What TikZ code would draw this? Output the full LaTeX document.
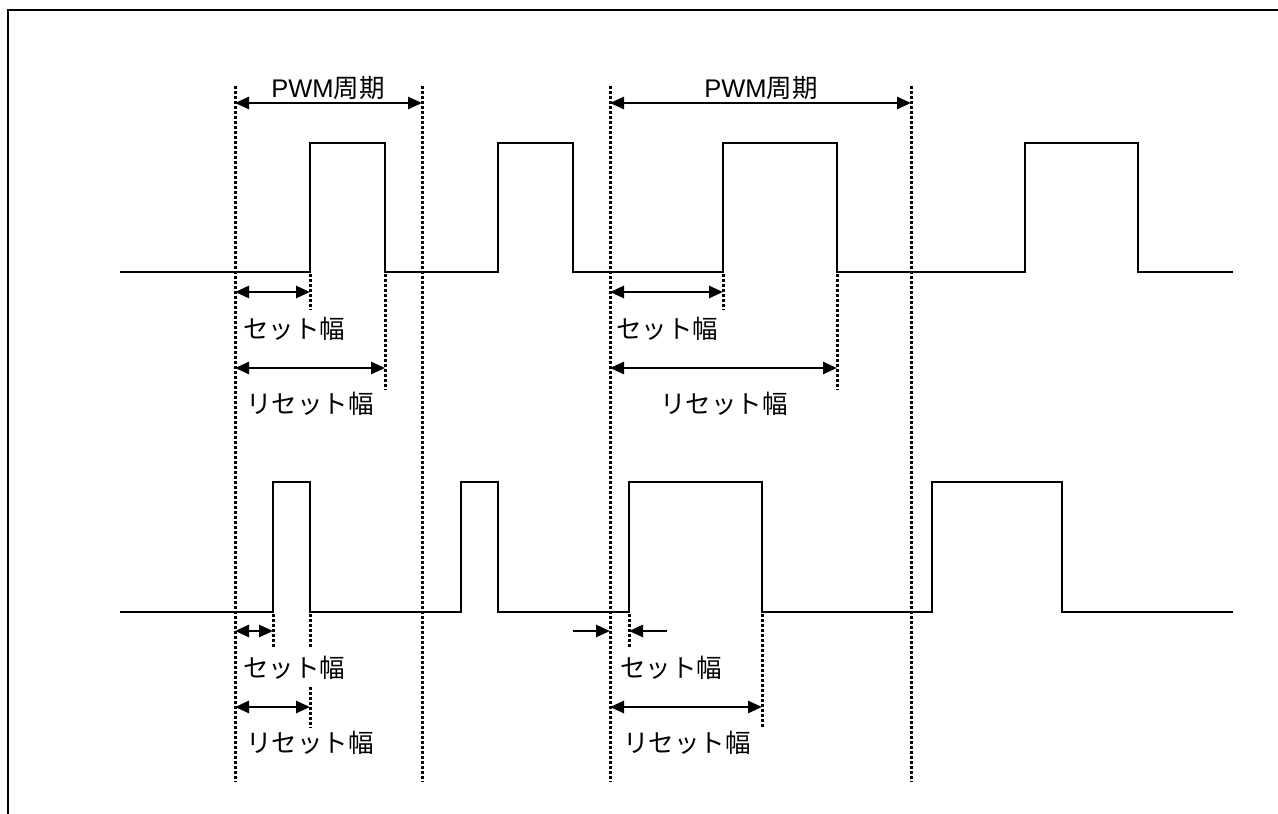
\documentclass[tikz,border=0pt]{standalone}
\usepackage{fontspec}
\setmainfont{Liberation Sans}
\newfontfamily\cjk{Noto Sans CJK JP}
\usetikzlibrary{arrows.meta}
\begin{document}
\begin{tikzpicture}[x=1pt,y=-1pt,
  sig/.style={line width=2.6pt,line join=miter},
  dots/.style={line width=3pt,dash pattern=on 2.5pt off 2.5pt},
  dim/.style={line width=2.6pt,{Triangle[length=14pt,width=12pt]}-{Triangle[length=14pt,width=12pt]}},
  dimr/.style={line width=2.6pt,-{Triangle[length=14pt,width=12pt]}},
  lbl/.style={inner sep=0pt,font=\fontsize{25.5}{28}\selectfont}]
\useasboundingbox (0,0) rectangle (1278,814);
% frame (clipped)
\draw[line width=2.6pt] (8,814) -- (8,10) -- (1278,10);
% signal 1
\draw[sig] (120,272) -- (310,272) -- (310,143) -- (385,143) -- (385,272)
  -- (498,272) -- (498,143) -- (573,143) -- (573,272)
  -- (723,272) -- (723,143) -- (837,143) -- (837,272)
  -- (1025,272) -- (1025,143) -- (1138,143) -- (1138,272) -- (1233,272);
% signal 2
\draw[sig] (120,612) -- (273,612) -- (273,482) -- (310,482) -- (310,612)
  -- (461,612) -- (461,482) -- (498,482) -- (498,612)
  -- (629,612) -- (629,482) -- (762,482) -- (762,612)
  -- (932,612) -- (932,482) -- (1062,482) -- (1062,612) -- (1233,612);
% long dotted guides
\foreach \x in {235,422,610,911}
  \draw[dots] (\x,86) -- (\x,782);
% short dotted guides
\draw[dots] (310,274) -- (310,310);
\draw[dots] (385,274) -- (385,390);
\draw[dots] (723,274) -- (723,310);
\draw[dots] (837,274) -- (837,390);
\draw[dots] (273,614) -- (273,647);
\draw[dots] (310,614) -- (310,647);
\draw[dots] (310,687) -- (310,728);
\draw[dots] (629,614) -- (629,647);
\draw[dots] (762,614) -- (762,728);
% named coordinates for dimension arrows
\coordinate (p1a) at (235,103); \coordinate (p1b) at (422,103);
\coordinate (p2a) at (610,103); \coordinate (p2b) at (911,103);
\coordinate (s1a) at (235,292); \coordinate (s1b) at (310,292);
\coordinate (r1a) at (235,368); \coordinate (r1b) at (385,368);
\coordinate (s2a) at (610,292); \coordinate (s2b) at (723,292);
\coordinate (r2a) at (610,368); \coordinate (r2b) at (837,368);
\coordinate (s3a) at (235,631); \coordinate (s3b) at (273,631);
\coordinate (r3a) at (235,707); \coordinate (r3b) at (310,707);
\coordinate (s4o) at (573,631); \coordinate (s4a) at (610,631);
\coordinate (s4p) at (667,631); \coordinate (s4b) at (629,631);
\coordinate (r4a) at (610,707); \coordinate (r4b) at (762,707);
\draw[dim] (p1a) -- (p1b);
\draw[dim] (p2a) -- (p2b);
\draw[dim] (s1a) -- (s1b);
\draw[dim] (r1a) -- (r1b);
\draw[dim] (s2a) -- (s2b);
\draw[dim] (r2a) -- (r2b);
\draw[dim] (s3a) -- (s3b);
\draw[dim] (r3a) -- (r3b);
\draw[dimr] (s4o) -- (s4a);
\draw[dimr] (s4p) -- (s4b);
\draw[dim] (r4a) -- (r4b);
% labels
\node[lbl] (t1) at (328,88) {PWM{\cjk 周期}};
\node[lbl] (t2) at (761,88) {PWM{\cjk 周期}};
\node[lbl] (t3) at (294,329) {\cjk セット幅};
\node[lbl] (t4) at (310,404) {\cjk リセット幅};
\node[lbl] (t5) at (667,329) {\cjk セット幅};
\node[lbl] (t6) at (724,404) {\cjk リセット幅};
\node[lbl] (t7) at (294,668) {\cjk セット幅};
\node[lbl] (t8) at (310,743) {\cjk リセット幅};
\node[lbl] (t9) at (671,668) {\cjk セット幅};
\node[lbl] (t10) at (687,743) {\cjk リセット幅};
\end{tikzpicture}
\end{document}
